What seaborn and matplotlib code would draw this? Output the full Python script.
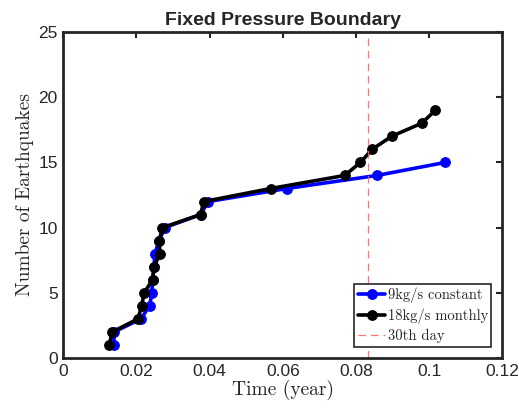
import matplotlib
matplotlib.use("Agg")
import matplotlib.pyplot as plt
import seaborn as sns
import pandas as pd
import numpy as np

# Data
counts_blue = [1, 2, 3, 4, 5, 6, 7, 8, 9, 10, 11, 12, 13, 14, 15]
time_blue = [0.0138, 0.0139, 0.0212, 0.0236, 0.0242, 0.0244, 0.0248, 0.0250, 0.0262, 0.0277,
             0.0375, 0.0396, 0.0611, 0.0857, 0.1044]
counts_black = [1, 2, 3, 4, 5, 6, 7, 8, 9, 10, 11, 12, 13, 14, 15, 16, 17, 18, 19]
time_black = [0.0125, 0.0134, 0.0204, 0.0214, 0.0221, 0.0244, 0.0248, 0.0264, 0.0262, 0.0271,
              0.0375, 0.0384, 0.0567, 0.0769, 0.0812, 0.0844, 0.0897, 0.0979, 0.1017]
day30 = 1 / 12
labels = ["9kg/s constant", "18kg/s monthly", "30th day"]
xticks = [0, 0.02, 0.04, 0.06, 0.08, 0.1, 0.12]
xticklabels = ["0", "0.02", "0.04", "0.06", "0.08", "0.1", "0.12"]
yticks = [0, 5, 10, 15, 20, 25]

sns.set_style("white")
plt.rcParams['font.family'] = ['Liberation Sans', 'DejaVu Sans']

fig = plt.figure(figsize=(5.19, 4.11), dpi=100)
ax = fig.add_axes([0.122, 0.129, 0.846, 0.793])

df_b = pd.DataFrame({"t": time_blue, "n": counts_blue})
df_k = pd.DataFrame({"t": time_black, "n": counts_black})
sns.lineplot(data=df_b, x="t", y="n", ax=ax, color="#0000ff", lw=2.6, marker="o",
             markersize=7, markeredgecolor="#0000ff", sort=False, label=labels[0])
sns.lineplot(data=df_k, x="t", y="n", ax=ax, color="black", lw=2.6, marker="o",
             markersize=7, markeredgecolor="black", sort=False, label=labels[1])
ax.axvline(day30, color="#ff6666", lw=0.9, ls=(0, (6, 4)), alpha=0.9, label=labels[2])

ax.set_xlim(0, 0.12)
ax.set_ylim(0, 25)
ax.set_xticks(xticks)
ax.set_xticklabels(xticklabels)
ax.set_yticks(yticks)
ax.tick_params(direction="in", length=4, width=1.5, top=True, right=True,
               labelsize=12.5, colors="#262626", pad=4)
for sp in ax.spines.values():
    sp.set_linewidth(2)
    sp.set_color("#262626")
    sp.set_visible(True)

ax.set_title("Fixed Pressure Boundary", fontsize=14, fontweight="bold", pad=5)
ax.set_xlabel("Time (year)", family="cmr10", fontsize=14, labelpad=1)
ax.set_ylabel("Number of Earthquakes", family="cmr10", fontsize=14, labelpad=3)

leg = ax.legend(loc="lower right", prop={"family": "cmr10", "size": 10.5}, frameon=True,
                fancybox=False, edgecolor="#262626", framealpha=1, borderpad=0.25,
                handlelength=1.9, handletextpad=0.15, labelspacing=0.35,
                borderaxespad=0.75)
leg.get_frame().set_linewidth(1.2)

fig.savefig("out.png", dpi=100)
